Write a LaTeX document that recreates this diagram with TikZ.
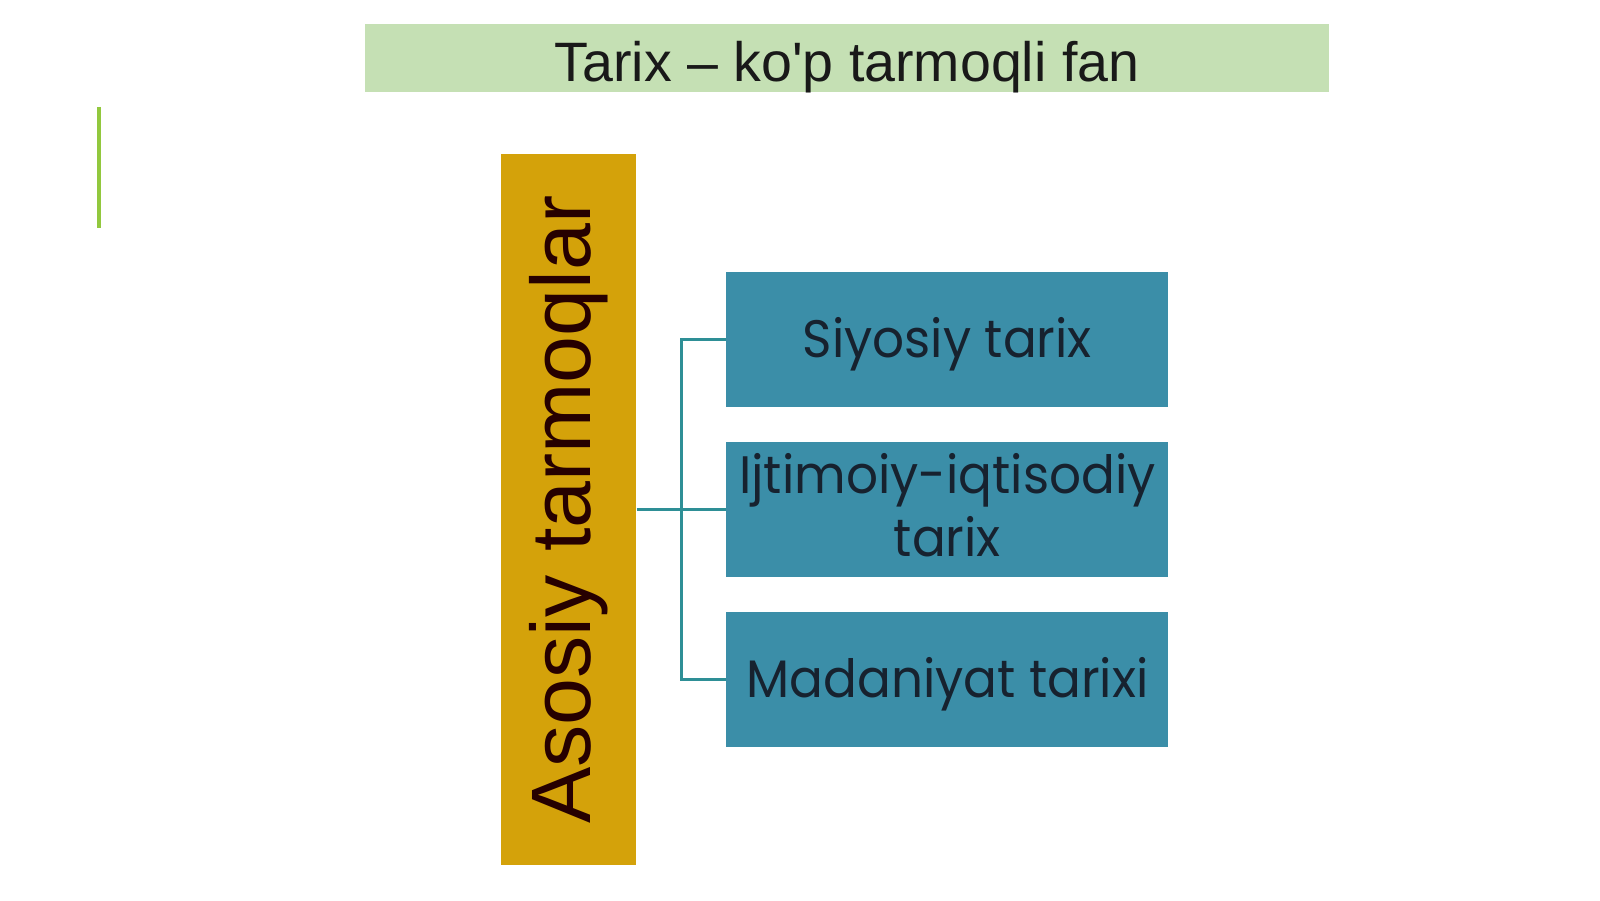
\documentclass[tikz,border=0pt]{standalone}
\usepackage{fontspec}
\setmainfont{Liberation Sans}
\newfontfamily\boxfont[FakeStretch=0.95]{Poppins}
\usetikzlibrary{positioning,calc}
\definecolor{titlegreen}{HTML}{C5E0B4}
\definecolor{limeline}{HTML}{92C83E}
\definecolor{gold}{HTML}{D4A20A}
\definecolor{tealbox}{HTML}{3B8EA8}
\definecolor{tealline}{HTML}{2E8F96}
\definecolor{boxtext}{HTML}{17222F}
\begin{document}
\begin{tikzpicture}[
    branch/.style={fill=tealbox, minimum width=4.42cm, minimum height=1.35cm,
      inner sep=0pt, align=center, text=boxtext, text height=0.42cm, text depth=0.06cm,
      font=\boxfont\fontsize{15}{15.9}\selectfont},
    link/.style={draw=tealline, line width=0.9pt}]
  \useasboundingbox (0,0) rectangle (16,9);
  \node[fill=titlegreen, minimum width=9.64cm, minimum height=0.685cm, inner sep=0pt,
    text height=0.52cm, text depth=0.04cm, text=black!90,
    font=\fontsize{15.8}{17}\selectfont] (title) at (8.47,8.42)
    {Tarix – ko\textquotesingle{}p tarmoqli fan};
  \draw[limeline, line width=1.2pt] (0.99,7.93) -- (0.99,6.72);
  \node[fill=gold, minimum width=7.11cm, minimum height=1.35cm, inner sep=0pt, rotate=90,
    text=black!85!red, font=\fontsize{24}{26}\selectfont] (tarmoq) at (5.685,3.905) {Asosiy tarmoqlar};
  \node[branch, right=0.89cm of tarmoq.south, anchor=west,
    text height=1.0cm, text depth=0.07cm] (ijtimoiy) {Ijtimoiy-iqtisodiy\\[2pt]tarix};
  \node[branch, above=0.34cm of ijtimoiy] (siyosiy) {Siyosiy tarix};
  \node[branch, below=0.34cm of ijtimoiy] (madaniyat) {Madaniyat tarixi};
  \coordinate (fork) at ($(tarmoq.south)!0.5!(ijtimoiy.west)$);
  \draw[link] (tarmoq.south) -- (ijtimoiy.west);
  \draw[link] (siyosiy.west) -| (fork) |- (madaniyat.west);
\end{tikzpicture}
\end{document}
